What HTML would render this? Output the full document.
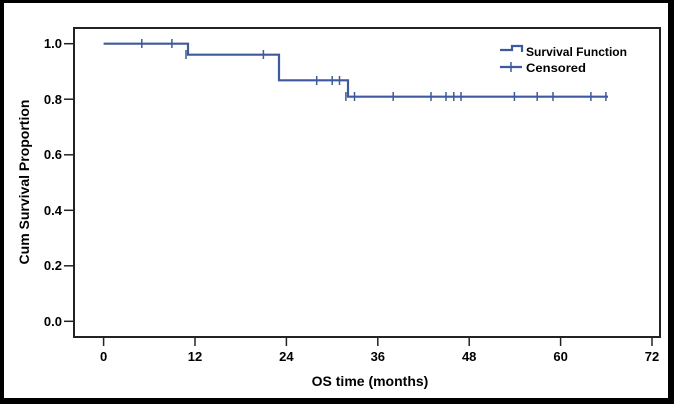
<!DOCTYPE html>
<html><head><meta charset="utf-8"><style>
html,body{margin:0;padding:0;background:#000;}
svg{display:block;}
text{font-family:"Liberation Sans",Arial,sans-serif;font-weight:bold;fill:#000;}
</style></head><body>
<svg width="674" height="404" viewBox="0 0 674 404" xmlns="http://www.w3.org/2000/svg">
<rect x="4" y="3" width="664" height="395" fill="#fff"/>
<rect x="74" y="28" width="586" height="309" fill="none" stroke="#222" stroke-width="2"/>
<g stroke="#222" stroke-width="1.5">
<line x1="64" y1="43.7" x2="74" y2="43.7"/><line x1="64" y1="99.2" x2="74" y2="99.2"/>
<line x1="64" y1="154.8" x2="74" y2="154.8"/><line x1="64" y1="210.3" x2="74" y2="210.3"/>
<line x1="64" y1="265.8" x2="74" y2="265.8"/><line x1="64" y1="321.3" x2="74" y2="321.3"/>
<line x1="103.6" y1="337" x2="103.6" y2="346"/><line x1="195" y1="337" x2="195" y2="346"/>
<line x1="286.4" y1="337" x2="286.4" y2="346"/><line x1="377.8" y1="337" x2="377.8" y2="346"/>
<line x1="469.2" y1="337" x2="469.2" y2="346"/><line x1="560.6" y1="337" x2="560.6" y2="346"/>
<line x1="652" y1="337" x2="652" y2="346"/>
</g>
<g font-size="13" text-anchor="end">
<text x="62" y="48">1.0</text><text x="62" y="104">0.8</text><text x="62" y="159">0.6</text>
<text x="62" y="215">0.4</text><text x="62" y="270">0.2</text><text x="62" y="326">0.0</text>
</g>
<g font-size="13" text-anchor="middle">
<text x="103.6" y="361">0</text><text x="195" y="361">12</text><text x="286.4" y="361">24</text>
<text x="377.8" y="361">36</text><text x="469.2" y="361">48</text><text x="560.6" y="361">60</text>
<text x="652" y="361">72</text>
<text x="370" y="386" font-size="14">OS time (months)</text>
<text transform="translate(29,182) rotate(-90)" font-size="14">Cum Survival Proportion</text>
</g>
<g stroke="#3f5a9c" stroke-width="2.2" fill="none">
<polyline points="103.6,43.7 188,43.7 188,54.7 279,54.7 279,80.3 348,80.3 348,96.7 608,96.7"/>
</g>
<g stroke="#3f5a9c" stroke-width="1.5">
<path d="M141.8,39v9M171.9,39v9M186,50v9M263.4,50v9M316.7,76v9M332.2,76v9M339.5,76v9M345.9,92v9M354.5,92v9M393.2,92v9M431,92v9M446,92v9M453.8,92v9M461,92v9M514.4,92v9M537.2,92v9M553,92v9M590.9,92v9M605.9,92v9"/>
</g>
<g stroke="#3f5a9c" stroke-width="2.2" fill="none">
<polyline points="500,50 512,50 512,46 522,46 522,52"/>
<line x1="500" y1="67" x2="522" y2="67"/>
<line x1="511" y1="62" x2="511" y2="72" stroke-width="1.5"/>
</g>
<g font-size="12">
<text x="526" y="56" textLength="101" lengthAdjust="spacingAndGlyphs">Survival Function</text>
<text x="526" y="72" textLength="60" lengthAdjust="spacingAndGlyphs">Censored</text>
</g>
</svg>
</body></html>
